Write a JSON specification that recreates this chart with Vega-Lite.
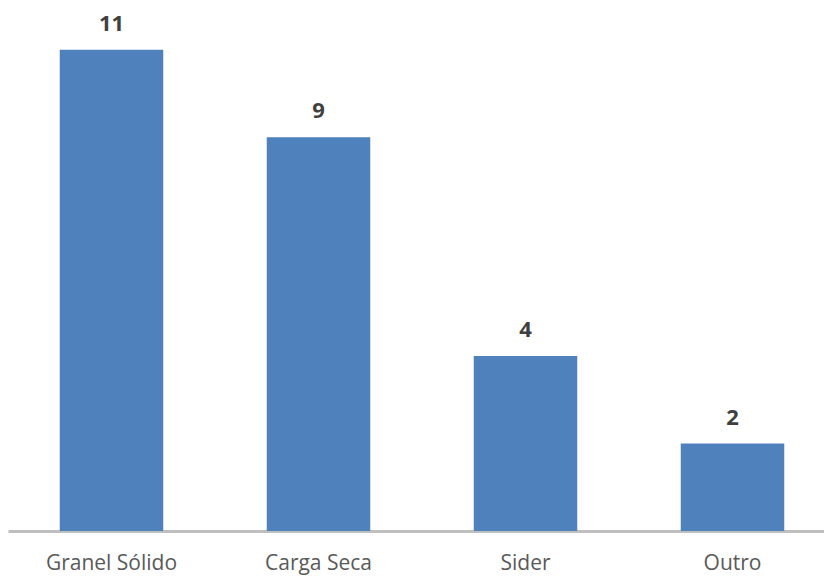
{
  "$schema": "https://vega.github.io/schema/vega-lite/v6.json",
  "autosize": {"type": "none"},
  "width": 828,
  "height": 525,
  "padding": {"left": 8, "top": 6, "right": 0, "bottom": 45},
  "background": "white",
  "config": {"view": {"stroke": null}},
  "data": {"values": [
    {"categoria": "Granel Sólido", "valor": 11},
    {"categoria": "Carga Seca", "valor": 9},
    {"categoria": "Sider", "valor": 4},
    {"categoria": "Outro", "valor": 2}
  ]},
  "encoding": {
    "x": {"field": "categoria", "type": "nominal", "sort": null,
      "scale": {"paddingInner": 0.5, "paddingOuter": 0.25},
      "axis": {"title": null, "labelAngle": 0, "ticks": false, "domainColor": "#BFBFBF", "domainWidth": 3,
        "labelFont": "Open Sans", "labelFontSize": 21, "labelColor": "#595959", "labelPadding": 21}},
    "y": {"field": "valor", "type": "quantitative", "scale": {"domain": [0, 12], "nice": false}, "axis": null}
  },
  "layer": [
    {"mark": {"type": "bar", "color": "#4F81BD"}},
    {"mark": {"type": "text", "baseline": "bottom", "dy": -14, "font": "Open Sans", "fontWeight": "bold", "fontSize": 22, "color": "#404040"},
     "encoding": {"text": {"field": "valor", "type": "quantitative"}}}
  ]
}
